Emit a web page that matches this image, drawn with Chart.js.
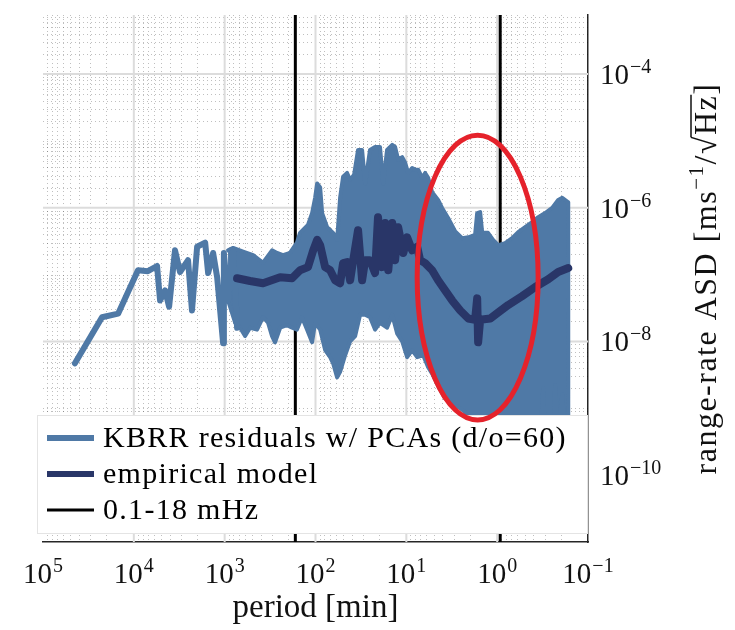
<!DOCTYPE html>
<html>
<head>
<meta charset="utf-8">
<script src="https://cdn.jsdelivr.net/npm/chart.js@4.4.0/dist/chart.umd.min.js"></script>
<style>
  html, body { margin: 0; padding: 0; background: #fff; }
  #chart { display: block; }
</style>
</head>
<body>
<canvas id="chart" width="735" height="630"></canvas>
<script>
// period in minutes, ASD in m s^-1 / sqrt(Hz)

// residuals, single line at long periods
const lowPeriod = [44500, 22400, 14900, 9000, 7000, 5550, 5140, 4530, 4090, 3520, 3100, 2530,
  2290, 2010, 1640, 1520, 1340, 1210, 1040, 1020, 918, 807, 730];
const lowAsd = [4.7e-9, 2.3e-8, 2.6e-8, 1.16e-7, 1.12e-7, 1.34e-7, 4.1e-8, 5.8e-8, 3.3e-8, 2.3e-7, 1.09e-7, 1.64e-7,
  2.9e-8, 2.6e-7, 3.0e-7, 1.05e-7, 2.1e-7, 9.1e-8, 9.4e-9, 2.1e-7, 4.1e-8, 2.3e-7, 1.6e-8];

// residuals, upper edge of the dense part
const bandUpperPeriod = [918, 807, 627, 486, 378, 301, 265, 228, 191, 160, 148, 121, 109, 101, 95.9,
  88.9, 84.5, 74.5, 64.0, 57.8, 53.6, 49.7, 44.9, 41.6, 37.6, 34.0, 30.7, 28.4, 25.1, 22.1,
  19.5, 18.0, 16.3, 14.3, 13.3, 12.3, 11.1, 10.3, 9.55, 8.63, 8.00, 7.41, 6.70, 6.21, 5.75,
  5.20, 4.47, 4.04, 3.47, 2.90, 2.43, 2.08, 1.75, 1.66, 1.54, 1.46, 1.26, 1.11, 0.975, 0.817,
  0.684, 0.587, 0.492, 0.412, 0.353, 0.296, 0.248, 0.213, 0.192, 0.165];
const bandUpperAsd = [2.3e-7, 2.5e-7, 2.2e-7, 1.95e-7, 1.5e-7, 2.3e-7, 2.1e-7, 1.95e-7, 2.1e-7, 3.0e-7,
  4.2e-7, 5.5e-7, 8.3e-7, 1.4e-6, 2.3e-6, 2.0e-6, 8.3e-7, 5.1e-7, 4.2e-7, 3.3e-7,
  1.4e-6, 2.9e-6, 3.3e-6, 2.6e-6, 3.1e-6, 7.3e-6, 7.3e-6, 2.3e-6, 7.3e-6, 8.1e-6,
  8.1e-6, 2.3e-6, 7.3e-6, 8.7e-6, 8.1e-6, 5.2e-6, 5.7e-6, 4.7e-6, 3.3e-6, 3.9e-6,
  3.7e-6, 3.7e-6, 2.8e-6, 3.3e-6, 2.8e-6, 1.7e-6, 1.3e-6, 9.9e-7, 7.0e-7, 4.4e-7,
  3.5e-7, 3.6e-7, 3.9e-7, 8.3e-7, 8.6e-7, 4.2e-7, 4.2e-7, 3.3e-7, 2.75e-7, 2.95e-7,
  3.5e-7, 4.3e-7, 5.1e-7, 6.1e-7, 7.2e-7, 8.3e-7, 9.9e-7, 1.3e-6, 1.4e-6, 1.2e-6];

// residuals, lower edge of the dense part
const bandLowerPeriod = [918, 767, 676, 596, 525, 440, 378, 333, 301, 279, 245, 206, 181, 160, 141,
  124, 109, 101, 88.9, 78.3, 69.0, 64.0, 57.8, 53.6, 47.2, 41.6, 36.6, 32.3, 28.4, 25.1,
  22.1, 19.5, 16.3, 14.3, 12.6, 11.1, 9.8, 8.63, 7.60, 6.53, 5.75, 5.20, 4.70, 4.25, 3.74,
  3.30, 2.90, 2.55, 2.25, 1.98, 0.558, 0.336, 0.311, 0.296, 0.242, 0.230, 0.213, 0.192, 0.178, 0.165];
const bandLowerAsd = [4.1e-8, 1.9e-8, 1.6e-8, 1.2e-8, 1.6e-8, 1.5e-8, 2.3e-8, 1.9e-8, 1.2e-8, 9.7e-9,
  1.6e-8, 1.75e-8, 1.6e-8, 1.5e-8, 2.3e-8, 1.5e-8, 9.7e-9, 1.9e-8, 1.5e-8, 7.4e-9,
  5.8e-9, 4.7e-9, 2.9e-9, 3.5e-9, 6.2e-9, 1.0e-8, 1.2e-8, 2.5e-8, 2.5e-8, 2.3e-8,
  1.5e-8, 1.9e-8, 1.6e-8, 2.5e-8, 1.3e-8, 1.0e-8, 5.8e-9, 7.4e-9, 5.8e-9, 6.2e-9,
  4.1e-9, 3.3e-9, 2.5e-9, 1.9e-9, 1.4e-9, 1.3e-9, 1.1e-9, 1.0e-9, 8.7e-10, 3.3e-10,
  3.3e-10, 3.3e-10, 2.0e-9, 3.3e-10, 3.3e-10, 2.2e-9, 3.3e-10, 1.6e-9, 3.3e-10, 3.3e-10];

// empirical noise model
const modelPeriod = [730, 525, 378, 245, 181, 148, 121, 106, 95.9, 88.9, 78.3, 69.0, 60.8, 53.6, 49.7,
  44.9, 41.6, 39.5, 34.0, 30.7, 28.4, 25.1, 22.1, 20.5, 18.5, 17.1, 15.8, 14.3, 13.3, 12.3,
  10.8, 9.8, 8.63, 7.60, 7.05, 6.21, 5.20, 4.47, 3.74, 3.13, 2.55, 2.08, 1.75, 1.66, 1.62,
  1.54, 1.19, 0.975, 0.757, 0.531, 0.381, 0.274, 0.213, 0.165];
const modelAsd = [8.8e-8, 8.0e-8, 7.4e-8, 9.1e-8, 8.8e-8, 1.16e-7, 1.29e-7, 2.3e-7, 3.3e-7, 2.75e-7,
  1.29e-7, 1.16e-7, 8.2e-8, 7.4e-8, 1.48e-7, 1.53e-7, 8.2e-8, 1.29e-7, 4.6e-7, 8.2e-8,
  1.64e-7, 1.64e-7, 1.05e-7, 7.2e-7, 1.29e-7, 5.9e-7, 1.16e-7, 5.9e-7, 1.64e-7, 5.1e-7,
  2.1e-7, 3.6e-7, 2.3e-7, 2.6e-7, 1.64e-7, 1.48e-7, 1.16e-7, 8.2e-8, 5.8e-8, 4.1e-8,
  2.9e-8, 2.2e-8, 2.1e-8, 4.4e-8, 9.7e-9, 2.1e-8, 2.2e-8, 2.7e-8, 3.5e-8, 4.75e-8,
  6.5e-8, 8.5e-8, 1.09e-7, 1.25e-7];

// 0.1 mHz and 18 mHz as periods in minutes
const limitPeriods = [166.7, 0.926];

const seriesLabels = ['KBRR residuals w/ PCAs (d/o=60)', 'empirical model', '0.1-18 mHz'];

const xRange = [1e-1, 1e5];
const yRange = [1e-11, 7.6e-4];
const xTicks = [1e5, 1e4, 1e3, 1e2, 1e1, 1e0, 1e-1];
const yTicks = [1e-10, 1e-8, 1e-6, 1e-4];

// red ring: centre (period, ASD) and half axes in decades
const ringCentre = [1.64, 9.0e-8];
const ringHalf = [0.666, 2.13];

const lightBlue = '#4f79a6';
const navy = '#293668';
const ringRed = '#e5222b';
const serif = '"Liberation Serif", serif';

const pts = (px, py) => px.map((p, i) => ({ x: p, y: py[i] }));

// closed outline of the dense part: upper edge left to right, lower edge back
const bandShape = pts(bandUpperPeriod, bandUpperAsd).concat(pts(bandLowerPeriod, bandLowerAsd).reverse());

// "10" with a raised exponent
function drawPow(ctx, v, x, base, anchor) {
  const e = String(Math.round(Math.log10(v))).replace('-', '−');
  ctx.font = '29px ' + serif;
  const w10 = ctx.measureText('10').width;
  ctx.font = '20px ' + serif;
  const we = ctx.measureText(e).width;
  const start = anchor === 'center' ? x - (w10 + we + 1) / 2 : x;
  ctx.font = '29px ' + serif;
  ctx.fillText('10', start, base);
  ctx.font = '20px ' + serif;
  ctx.fillText(e, start + w10 + 1, base - 11);
}

// log grid: dotted minor lines, light solid decades
const gridPlugin = {
  id: 'logGrid',
  beforeDatasetsDraw(chart) {
    const { ctx, chartArea: a, scales: { x, y } } = chart;
    ctx.save();
    ctx.strokeStyle = 'rgba(0,0,0,0.25)';
    ctx.lineWidth = 1;
    ctx.setLineDash([1, 3]);
    for (let e = -1; e < 5; e++) {
      for (let k = 2; k < 10; k++) {
        const px = Math.round(x.getPixelForValue(k * Math.pow(10, e))) + 0.5;
        ctx.beginPath(); ctx.moveTo(px, a.top); ctx.lineTo(px, a.bottom); ctx.stroke();
      }
    }
    for (let e = -11; e < -3; e++) {
      for (let k = 1; k < 10; k++) {
        if (k === 1 && e % 2 === 0) continue;
        const v = k * Math.pow(10, e);
        if (v <= yRange[0] || v >= yRange[1]) continue;
        const py = Math.round(y.getPixelForValue(v)) + 0.5;
        ctx.beginPath(); ctx.moveTo(a.left, py); ctx.lineTo(a.right, py); ctx.stroke();
      }
    }
    ctx.setLineDash([]);
    ctx.strokeStyle = '#dcdcdc';
    ctx.lineWidth = 2;
    xTicks.slice(1, -1).forEach(v => {
      const px = x.getPixelForValue(v);
      ctx.beginPath(); ctx.moveTo(px, a.top); ctx.lineTo(px, a.bottom); ctx.stroke();
    });
    yTicks.forEach(v => {
      const py = y.getPixelForValue(v);
      ctx.beginPath(); ctx.moveTo(a.left, py); ctx.lineTo(a.right, py); ctx.stroke();
    });
    ctx.restore();
  }
};

// legend box inside the plot, over the data
const legendPlugin = {
  id: 'boxLegend',
  afterDatasetsDraw(chart) {
    const { ctx, chartArea: a } = chart;
    const items = [
      { text: seriesLabels[0], color: lightBlue, width: 6 },
      { text: seriesLabels[1], color: navy, width: 6 },
      { text: seriesLabels[2], color: '#000', width: 3 }
    ];
    const left = a.left - 6, right = a.right - 1, top = a.bottom - 127, bottom = a.bottom - 9;
    ctx.save();
    ctx.fillStyle = '#fff';
    ctx.fillRect(left, top, right - left, bottom - top);
    ctx.strokeStyle = '#e4e4e4';
    ctx.lineWidth = 1;
    ctx.strokeRect(left + 0.5, top + 0.5, right - left, bottom - top);
    ctx.font = '30px ' + serif;
    ctx.letterSpacing = '1.3px';
    ctx.textBaseline = 'middle';
    ctx.fillStyle = '#000';
    items.forEach((it, i) => {
      const yy = top + 23 + i * 36;
      ctx.strokeStyle = it.color;
      ctx.lineWidth = it.width;
      ctx.beginPath(); ctx.moveTo(left + 10, yy); ctx.lineTo(left + 57, yy); ctx.stroke();
      ctx.fillText(it.text, left + 66, yy + 1);
    });
    ctx.restore();
  }
};

// red ring, tick labels and rotated y title
const overlayPlugin = {
  id: 'overlay',
  afterDraw(chart) {
    const { ctx, chartArea: a, scales: { x, y } } = chart;
    ctx.save();
    const cx = x.getPixelForValue(ringCentre[0]);
    const cy = y.getPixelForValue(ringCentre[1]);
    const rx = Math.abs(x.getPixelForValue(ringCentre[0] * Math.pow(10, ringHalf[0])) - cx);
    const ry = Math.abs(y.getPixelForValue(ringCentre[1] * Math.pow(10, ringHalf[1])) - cy);
    ctx.strokeStyle = ringRed;
    ctx.lineWidth = 5;
    ctx.beginPath();
    ctx.ellipse(cx, cy, rx, ry, 0, 0, Math.PI * 2);
    ctx.stroke();
    ctx.restore();

    // tick labels
    ctx.save();
    ctx.fillStyle = '#111';
    ctx.textBaseline = 'alphabetic';
    xTicks.forEach(v => drawPow(ctx, v, x.getPixelForValue(v), a.bottom + 41, 'center'));
    yTicks.forEach(v => drawPow(ctx, v, a.right + 12, y.getPixelForValue(v) + 10, 'left'));
    ctx.restore();

    // y axis title, reading bottom to top
    ctx.save();
    ctx.translate(a.right + 117, (a.top + a.bottom) / 2);
    ctx.rotate(-Math.PI / 2);
    ctx.fillStyle = '#111';
    ctx.textBaseline = 'alphabetic';
    ctx.letterSpacing = '1.5px';
    const big = '32px ' + serif, small = '21px ' + serif;
    const parts = [
      { t: 'range-rate ASD [ms', f: big, dy: 0 },
      { t: '−1', f: small, dy: -13 },
      { t: '/', f: big, dy: 0 },
      { t: '√', f: big, dy: 0 },
      { t: 'Hz', f: big, dy: 0, over: true },
      { t: ']', f: big, dy: 0 }
    ];
    let total = 0;
    parts.forEach(p => { ctx.font = p.f; p.w = ctx.measureText(p.t).width; total += p.w; });
    let px = -total / 2;
    const base = 11;
    parts.forEach(p => {
      ctx.font = p.f;
      ctx.fillText(p.t, px, base + p.dy);
      if (p.over) {
        ctx.strokeStyle = '#111';
        ctx.lineWidth = 1.5;
        ctx.beginPath(); ctx.moveTo(px - 2, base - 25); ctx.lineTo(px + p.w, base - 25); ctx.stroke();
      }
      px += p.w;
    });
    ctx.restore();
  }
};

const lineStyle = { pointRadius: 0, tension: 0, borderJoinStyle: 'round', borderCapStyle: 'round', fill: false };

new Chart(document.getElementById('chart'), {
  type: 'line',
  data: {
    datasets: [
      { ...lineStyle, label: seriesLabels[1], data: pts(modelPeriod, modelAsd), borderColor: navy, borderWidth: 8, order: 0 },
      { ...lineStyle, label: seriesLabels[0], data: pts(lowPeriod, lowAsd), borderColor: lightBlue, borderWidth: 6, order: 1 },
      { ...lineStyle, label: seriesLabels[0], data: bandShape, borderColor: lightBlue, backgroundColor: lightBlue,
        borderWidth: 4, fill: 'shape', order: 1 },
      { ...lineStyle, label: seriesLabels[2], borderColor: '#000', borderWidth: 3, order: 2,
        data: [{ x: limitPeriods[0], y: yRange[0] }, { x: limitPeriods[0], y: yRange[1] }] },
      { ...lineStyle, label: seriesLabels[2], borderColor: '#000', borderWidth: 3, order: 2,
        data: [{ x: limitPeriods[1], y: yRange[0] }, { x: limitPeriods[1], y: yRange[1] }] }
    ]
  },
  options: {
    responsive: false,
    animation: false,
    devicePixelRatio: 1,
    layout: { padding: { left: 43, top: 15, right: 0, bottom: 0 } },
    plugins: { legend: { display: false }, tooltip: { enabled: false } },
    scales: {
      x: {
        type: 'logarithmic',
        position: 'bottom',
        reverse: true,
        min: xRange[0],
        max: xRange[1],
        grid: { display: false, drawTicks: false },
        border: { display: true, color: '#262626', width: 1.5 },
        afterBuildTicks: s => { s.ticks = xTicks.map(v => ({ value: v })); },
        afterFit: s => { s.height = 88; },
        ticks: { display: false },
        title: {
          display: true, text: 'period [min]', color: '#111',
          font: { family: serif, size: 33 }, padding: { top: 0, bottom: 2 }
        }
      },
      y: {
        type: 'logarithmic',
        position: 'right',
        min: yRange[0],
        max: yRange[1],
        grid: { display: false, drawTicks: false },
        border: { display: true, color: '#262626', width: 1.5 },
        afterBuildTicks: s => { s.ticks = yTicks.map(v => ({ value: v })); },
        afterFit: s => { s.width = 147; },
        ticks: { display: false }
      }
    }
  },
  plugins: [gridPlugin, legendPlugin, overlayPlugin]
});
</script>
</body>
</html>
